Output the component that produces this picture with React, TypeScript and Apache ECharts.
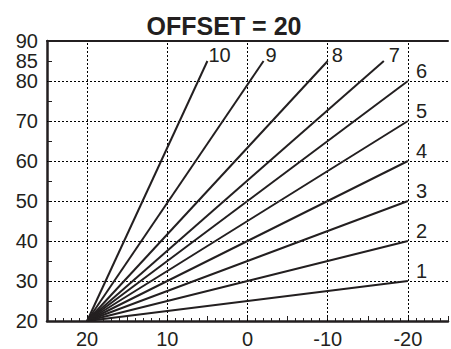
import React, { useEffect, useRef } from "react";
import * as echarts from "echarts";

const titleText = "OFFSET = 20";
const curveNames = ["1", "2", "3", "4", "5", "6", "7", "8", "9", "10"];
const originX = 20;
const originY = 20;
const curveEndX = [-20, -20, -20, -20, -20, -20, -17, -10, -2, 5];
const curveEndY = [30, 40, 50, 60, 70, 80, 85, 85, 85, 85];
const xGridValues = [20, 10, 0, -10, -20];
const yGridValues = [30, 40, 50, 60, 70, 80];
const yLabelValues = [20, 30, 40, 50, 60, 70, 80, 85, 90];
const xLabelValues = [20, 10, 0, -10, -20];

const labelOffsets: [number, number][] = [
  [8, -10], [8, -10], [8, -10], [8, -10], [8, -10], [8, -10],
  [5, -6], [4, -6], [2, -6], [1, -6],
];

const INK = "#231f20";
const FONT = "Liberation Sans, Arial, sans-serif";

export default function App() {
  const ref = useRef<HTMLDivElement>(null);
  useEffect(() => {
    if (!ref.current) return;
    const chart = echarts.init(ref.current, undefined, { renderer: "svg", width: 451, height: 349 });
    const curveSeries = curveNames.map((name, i) => ({
      name,
      type: "line",
      xAxisIndex: 0,
      yAxisIndex: 0,
      data: [
        [originX, originY],
        [curveEndX[i], curveEndY[i]],
      ],
      showSymbol: false,
      symbol: "none",
      silent: true,
      z: 5,
      lineStyle: { color: INK, width: 2 },
      endLabel: {
        show: true,
        formatter: name,
        position: "right",
        align: "left",
        verticalAlign: "middle",
        distance: 0,
        offset: labelOffsets[i],
        color: INK,
        fontSize: 20,
        fontFamily: FONT,
      },
    }));
    const gridSeries = {
      name: "grid",
      type: "line",
      data: [[originX, originY]],
      showSymbol: false,
      symbol: "none",
      silent: true,
      z: 1,
      lineStyle: { opacity: 0 },
      markLine: {
        silent: true,
        symbol: "none",
        animation: false,
        label: { show: false },
        lineStyle: { type: [2, 2], color: "#000", width: 1 },
        data: [
          ...xGridValues.map((v) => ({ xAxis: v })),
          ...yGridValues.map((v) => ({ yAxis: v })),
        ],
      },
    };
    chart.setOption({
      animation: false,
      title: {
        text: titleText,
        left: 219,
        top: 8,
        textAlign: "center",
        textStyle: {
          color: INK,
          fontSize: 25,
          fontWeight: "bold",
          fontFamily: FONT,
        },
      },
      grid: { left: 47, top: 41, width: 411.25, height: 287.7, containLabel: false },
      xAxis: [
        {
          type: "value",
          min: -25,
          max: 25,
          interval: 5,
          inverse: true,
          position: "bottom",
          axisLine: { show: true, onZero: false, lineStyle: { color: INK, width: 2.5 } },
          axisTick: { show: true, inside: true, length: 5, lineStyle: { color: INK, width: 1 } },
          minorTick: { show: true, splitNumber: 5, length: 3, lineStyle: { color: INK, width: 1 } },
          splitLine: { show: false },
          axisLabel: {
            color: INK,
            fontSize: 20,
            fontFamily: FONT,
            margin: 8,
            formatter: (v: number) => (xLabelValues.includes(v) ? String(v) : ""),
          },
        },
        {
          type: "value",
          min: -25,
          max: 25,
          inverse: true,
          position: "top",
          axisLine: { show: true, onZero: false, lineStyle: { color: INK, width: 2 } },
          axisTick: { show: false },
          axisLabel: { show: false },
          splitLine: { show: false },
        },
      ],
      yAxis: [
        {
          type: "value",
          min: 20,
          max: 90,
          interval: 5,
          position: "left",
          axisLine: { show: true, onZero: false, lineStyle: { color: INK, width: 2.5 } },
          axisTick: { show: true, inside: true, length: 5, lineStyle: { color: INK, width: 1 } },
          splitLine: { show: false },
          axisLabel: {
            color: INK,
            fontSize: 20,
            fontFamily: FONT,
            margin: 9,
            formatter: (v: number) => (yLabelValues.includes(v) ? String(v) : ""),
          },
        },
      ],
      series: [gridSeries, ...curveSeries],
    });
    return () => chart.dispose();
  }, []);
  return (
    <div
      ref={ref}
      style={{ position: "fixed", left: 0, top: 0, width: 451, height: 349, background: "#fff" }}
    />
  );
}
